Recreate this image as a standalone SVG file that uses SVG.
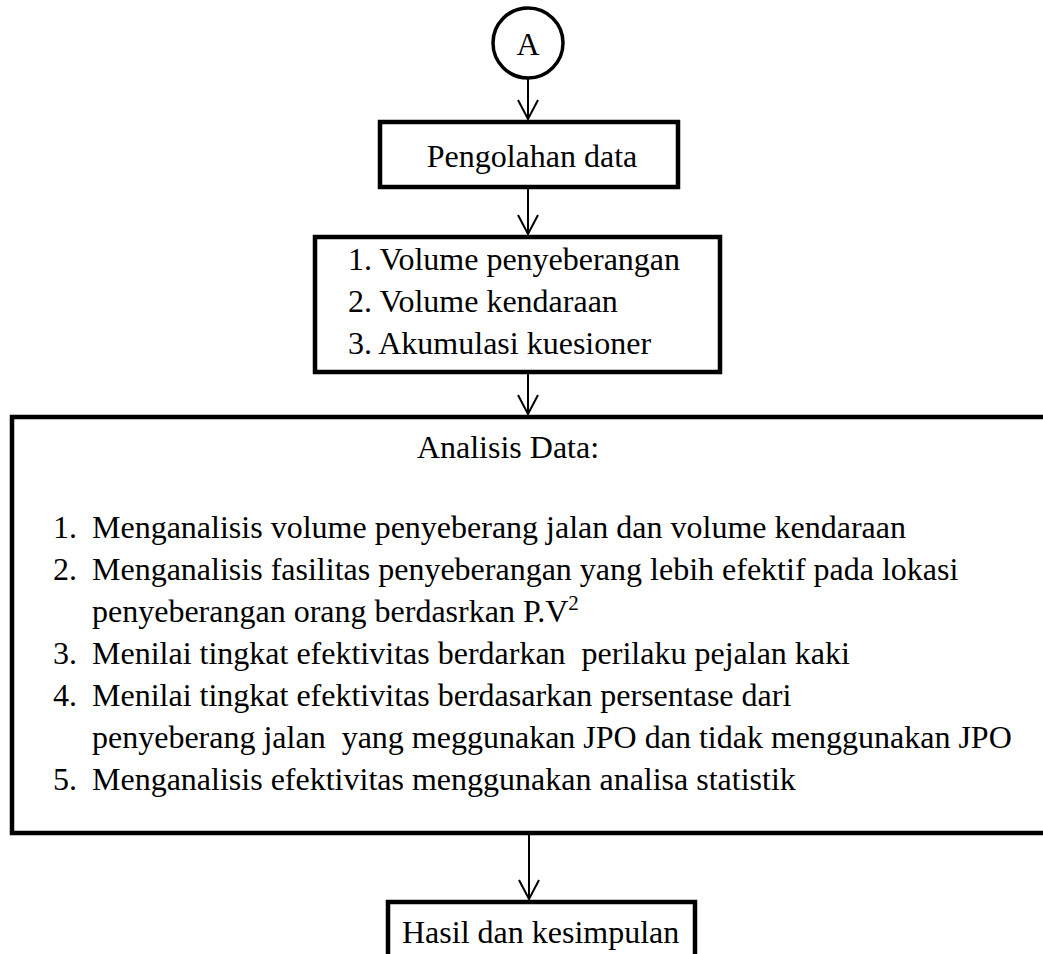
<svg xmlns="http://www.w3.org/2000/svg" width="1043" height="954" viewBox="0 0 1043 954">
<style>
  .box { fill: #ffffff; stroke: #000000; stroke-width: 4.5; }
  .circ { fill: #ffffff; stroke: #000000; stroke-width: 3.5; }
  .conn { fill: none; stroke: #000000; stroke-width: 2; marker-end: url(#arr); }
  text { font-family: "Liberation Serif", "Times New Roman", serif; font-size: 32px; fill: #000000; white-space: pre; }
  .c { text-anchor: middle; }
</style>
<defs>
  <marker id="arr" viewBox="-22 -12 24 24" refX="0" refY="0" markerWidth="24" markerHeight="24" markerUnits="userSpaceOnUse" orient="auto">
    <path d="M-19,-10 L0,0 L-19,10" fill="none" stroke="#000000" stroke-width="2"/>
  </marker>
</defs>
<rect width="1043" height="954" fill="#ffffff"/>
<g id="connectors">
  <path class="conn" d="M528,79 L528,119"/>
  <path class="conn" d="M528,189 L528,234"/>
  <path class="conn" d="M528,374 L528,414"/>
  <path class="conn" d="M529,835 L529,899"/>
</g>
<g id="node-a">
  <circle class="circ" cx="528" cy="43" r="35"/>
  <text class="c" x="528" y="55">A</text>
</g>
<g id="node-pengolahan">
  <rect class="box" x="380" y="122" width="298" height="65"/>
  <text class="c" x="532" y="167">Pengolahan data</text>
</g>
<g id="node-data">
  <rect class="box" x="315" y="237" width="405" height="135"/>
  <text x="348" y="270">1. Volume penyeberangan</text>
  <text x="348" y="312">2. Volume kendaraan</text>
  <text x="348" y="354">3. Akumulasi kuesioner</text>
</g>
<g id="node-analisis">
  <rect class="box" x="12" y="417" width="1100" height="416"/>
  <text class="c" x="508" y="458">Analisis Data:</text>
  <text x="53" y="538">1.</text>
  <text x="92" y="538">Menganalisis volume penyeberang jalan dan volume kendaraan</text>
  <text x="53" y="580">2.</text>
  <text x="92" y="580">Menganalisis fasilitas penyeberangan yang lebih efektif pada lokasi</text>
  <text x="92" y="622">penyeberangan orang berdasrkan P.V<tspan dy="-12" font-size="21">2</tspan></text>
  <text x="53" y="664">3.</text>
  <text x="92" y="664">Menilai tingkat efektivitas berdarkan  perilaku pejalan kaki</text>
  <text x="53" y="706">4.</text>
  <text x="92" y="706">Menilai tingkat efektivitas berdasarkan persentase dari</text>
  <text x="92" y="748">penyeberang jalan  yang meggunakan JPO dan tidak menggunakan JPO</text>
  <text x="53" y="790">5.</text>
  <text x="92" y="790">Menganalisis efektivitas menggunakan analisa statistik</text>
</g>
<g id="node-hasil">
  <rect class="box" x="388" y="902" width="307" height="90"/>
  <text x="402" y="943">Hasil dan kesimpulan</text>
</g>
</svg>
